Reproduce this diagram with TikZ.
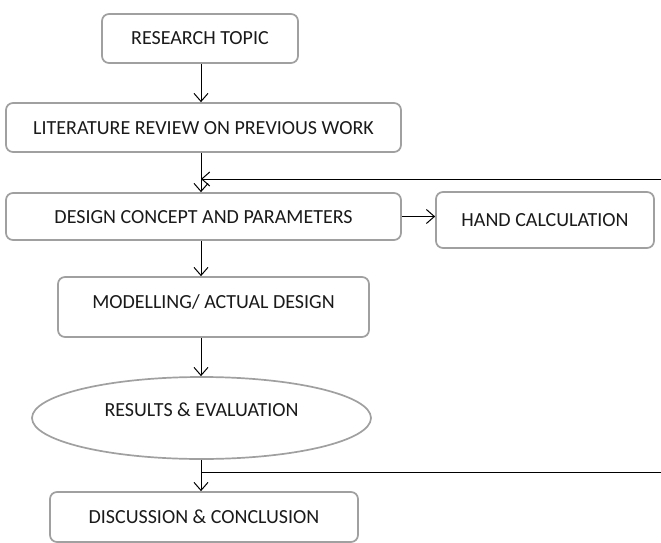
\documentclass[tikz,border=0pt]{standalone}
\usepackage{fontspec}
\setmainfont{Carlito}
\usetikzlibrary{shapes.geometric,arrows.meta}
\definecolor{boxgray}{HTML}{A0A0A0}
\definecolor{txt}{HTML}{1A1A1A}
\begin{document}
\begin{tikzpicture}[x=1pt,y=-1pt,
  box/.style={draw=boxgray, line width=1.7pt, rounded corners=7pt, fill=white, text=txt,
    font=\fontsize{20}{23}\selectfont, inner sep=0pt, text height=13pt, text depth=0pt},
  oval/.style={ellipse, draw=boxgray, line width=1.7pt, fill=white, text=txt,
    font=\fontsize{20}{23}\selectfont, inner sep=0pt, text height=13pt, text depth=16.5pt},
  conn/.style={draw=black, line width=1pt, -{Straight Barb[length=8pt,width=14pt]}},
  plainline/.style={draw=black, line width=1pt}]
\useasboundingbox (0,0) rectangle (661,543);
\coordinate (sp) at (201,0);
\node[box, minimum width=196pt, minimum height=49pt] (rt) at (200,38.5) {RESEARCH TOPIC};
\node[box, minimum width=395pt, minimum height=49pt] (lit) at (203.5,127.5) {LITERATURE REVIEW ON PREVIOUS WORK};
\node[box, minimum width=395pt, minimum height=47pt] (des) at (203.5,216.5) {DESIGN CONCEPT AND PARAMETERS};
\node[box, minimum width=218pt, minimum height=56pt] (hand) at (545,220) {HAND CALCULATION};
\node[box, minimum width=311pt, minimum height=60pt, text depth=10pt] (mod) at (213.5,307) {MODELLING/ ACTUAL DESIGN};
\node[oval, minimum width=339pt, minimum height=82pt] (res) at (201.5,418) {RESULTS \& EVALUATION};
\node[box, minimum width=308pt, minimum height=50pt] (dis) at (204,517) {DISCUSSION \& CONCLUSION};
\coordinate (fb1) at (661,179);
\coordinate (fb2) at (661,472);
\draw[conn] (rt.south -| sp) -- (lit.north -| sp);
\draw[conn] (lit.south -| sp) -- (des.north -| sp);
\draw[conn] (fb1) -- (fb1 -| sp);
\draw[conn] (des.east) -- (des.east -| hand.west);
\draw[conn] (des.south -| sp) -- (mod.north -| sp);
\draw[conn] (mod.south -| sp) -- (res.north -| sp);
\draw[conn] (res.south -| sp) -- (dis.north -| sp);
\draw[plainline] (fb2) -- (fb2 -| sp);
\end{tikzpicture}
\end{document}
